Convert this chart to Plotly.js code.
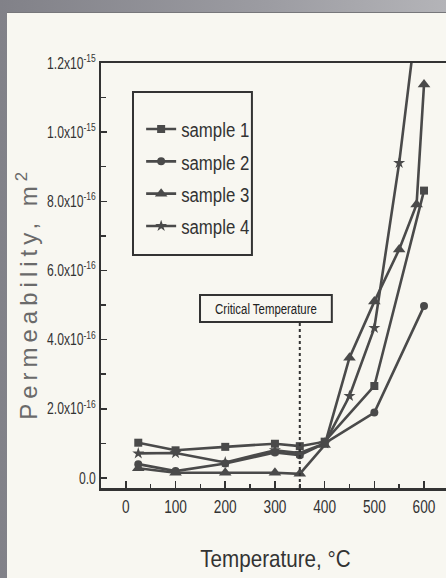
<!DOCTYPE html>
<html><head><meta charset="utf-8">
<script src="https://cdn.plot.ly/plotly-3.0.1.min.js"></script>
<style>
html,body{margin:0;padding:0;width:446px;height:578px;overflow:hidden;}
body{background:linear-gradient(90deg,#818188 0%,#9c9ca2 60%,#b4b4b8 100%);}
#chart{position:absolute;left:7px;top:12px;width:480px;height:566px;border-top:1px solid #77777b;}
.annotation[data-index="1"] text{letter-spacing:5px;}
</style></head>
<body>
<div id="chart"></div>
<script>
// Temperature (°C) and permeability (m^2)
const tempS1 = [25, 100, 200, 300, 350, 400, 500, 600];
const permS1 = [1.02e-16, 0.80e-16, 0.90e-16, 0.99e-16, 0.92e-16, 1.05e-16, 2.66e-16, 8.31e-16];
const tempS2 = [25, 100, 200, 300, 350, 400, 500, 600];
const permS2 = [0.40e-16, 0.20e-16, 0.42e-16, 0.74e-16, 0.66e-16, 1.00e-16, 1.89e-16, 4.97e-16];
const tempS3 = [25, 100, 200, 300, 350, 400, 450, 500, 550, 585, 600];
const permS3 = [0.28e-16, 0.15e-16, 0.15e-16, 0.15e-16, 0.12e-16, 0.95e-16, 3.48e-16, 5.10e-16, 6.61e-16, 7.91e-16, 11.38e-16];
const tempS4 = [25, 100, 200, 300, 350, 400, 450, 500, 550, 600];
const permS4 = [0.71e-16, 0.72e-16, 0.45e-16, 0.80e-16, 0.72e-16, 1.00e-16, 2.37e-16, 4.34e-16, 9.11e-16, 15.0e-16];
const seriesNames = ['sample 1', 'sample 2', 'sample 3', 'sample 4'];
const xTickVals = [0, 100, 200, 300, 400, 500, 600];
const yTickVals = [0, 2e-16, 4e-16, 6e-16, 8e-16, 1.0e-15, 1.2e-15];
const yTickText = ['0.0', '2.0x10<sup>-16</sup>', '4.0x10<sup>-16</sup>', '6.0x10<sup>-16</sup>',
                   '8.0x10<sup>-16</sup>', '1.0x10<sup>-15</sup>', '1.2x10<sup>-15</sup>'];
const criticalTemp = 350;

const FONT = "'Liberation Sans', Arial, sans-serif";
const INK = '#333333';
const LINE = '#4a4a4a';
const PAPER = '#f8f7f1';

const xs = [tempS1, tempS2, tempS3, tempS4];
const ys = [permS1, permS2, permS3, permS4];
const syms = ['square', 'circle', 'triangle-up', 'star'];
const sizes = [8, 8, 11, 9];

const traces = seriesNames.map((n, i) => ({
  type: 'scatter', mode: 'lines+markers', name: n,
  x: xs[i], y: ys[i], legendgroup: 'g' + i,
  line: {color: LINE, width: 2.6},
  marker: {color: LINE, symbol: syms[i], size: sizes[i]}
}));

const layout = {
  width: 480, height: 566,
  margin: {l: 94, r: 0, t: 50, b: 91},
  paper_bgcolor: PAPER, plot_bgcolor: PAPER,
  showlegend: true,
  legend: {
    x: 0.104, y: 0.892, xanchor: 'left', yanchor: 'top',
    bgcolor: 'rgba(0,0,0,0)', borderwidth: 0,
    font: {family: FONT, size: 21, color: INK},
    traceorder: 'grouped', tracegroupgap: 2
  },
  xaxis: {
    range: [-50, 726.7], showgrid: false, zeroline: false,
    showline: true, linecolor: INK, linewidth: 2.5, mirror: true,
    tickmode: 'array', tickvals: xTickVals,
    ticks: 'inside', ticklen: 7, tickwidth: 1.5, tickcolor: INK,
    minor: {tickmode: 'linear', tick0: 50, dtick: 100, ticks: 'inside', ticklen: 4, tickwidth: 1.5, tickcolor: INK},
    ticklabelstandoff: 1,
    tickfont: {family: FONT, size: 18, color: INK}
  },
  yaxis: {
    range: [-0.29e-16, 12e-16], showgrid: false, zeroline: false,
    showline: true, linecolor: INK, linewidth: 2, mirror: true,
    tickmode: 'array', tickvals: yTickVals, ticktext: yTickText,
    ticks: 'inside', ticklen: 6, tickwidth: 1.5, tickcolor: INK,
    minor: {tickmode: 'linear', tick0: 1e-16, dtick: 2e-16, ticks: 'inside', ticklen: 5, tickwidth: 1.5, tickcolor: INK},
    tickfont: {family: FONT, size: 16, color: INK}
  },
  shapes: [
    {type: 'line', xref: 'x', yref: 'paper', x0: criticalTemp, x1: criticalTemp, y0: 0, y1: 0.39,
     line: {color: INK, width: 2, dash: 'dot'}},
    {type: 'rect', xref: 'paper', yref: 'paper', x0: 0.0829, x1: 0.391, y0: 0.5482, y1: 0.9318,
     line: {color: INK, width: 2}, fillcolor: 'rgba(0,0,0,0)'},
    {type: 'rect', xref: 'paper', yref: 'paper', x0: 0.2565, x1: 0.598, y0: 0.3906, y1: 0.4541,
     line: {color: INK, width: 2}, fillcolor: PAPER}
  ],
  annotations: [
    {text: 'Temperature, °C', xref: 'paper', yref: 'paper', x: 0.453, y: -0.167,
     xanchor: 'center', yanchor: 'middle', showarrow: false,
     font: {family: FONT, size: 24, color: INK}},
    {text: 'Permeability, m<sup>2</sup>', xref: 'paper', yref: 'paper', x: -0.192, y: 0.459,
     xanchor: 'center', yanchor: 'middle', showarrow: false, textangle: -90,
     font: {family: FONT, size: 24, color: '#6a6a6a'}},
    {text: 'Critical Temperature', xref: 'paper', yref: 'paper', x: 0.4273, y: 0.4224,
     xanchor: 'center', yanchor: 'middle', showarrow: false,
     font: {family: FONT, size: 15, color: '#222'}}
  ]
};

// the scanned figure's lettering is condensed: squeeze glyphs horizontally about their anchor
function squeezeFor(t) {
  if (t.closest('.annotation[data-index="1"]')) return 1;
  if (t.closest('.annotation[data-index="0"]')) return 0.86;
  if (t.closest('.legend')) return 0.8;
  return 0.76;
}
Plotly.newPlot('chart', traces, layout, {displayModeBar: false, staticPlot: true}).then(gd => {
  gd.querySelectorAll('text').forEach(t => {
    const fs = getComputedStyle(t).fontSize;
    if (fs && !t.getAttribute('font-size')) t.setAttribute('font-size', fs);
    const s = squeezeFor(t);
    if (s === 1) return;
    const x = parseFloat(t.getAttribute('x')) || 0;
    const prev = t.getAttribute('transform') || '';
    t.setAttribute('transform', prev + ' translate(' + x + ',0) scale(' + s + ',1) translate(' + (-x) + ',0)');
  });
});
</script>
</body></html>
